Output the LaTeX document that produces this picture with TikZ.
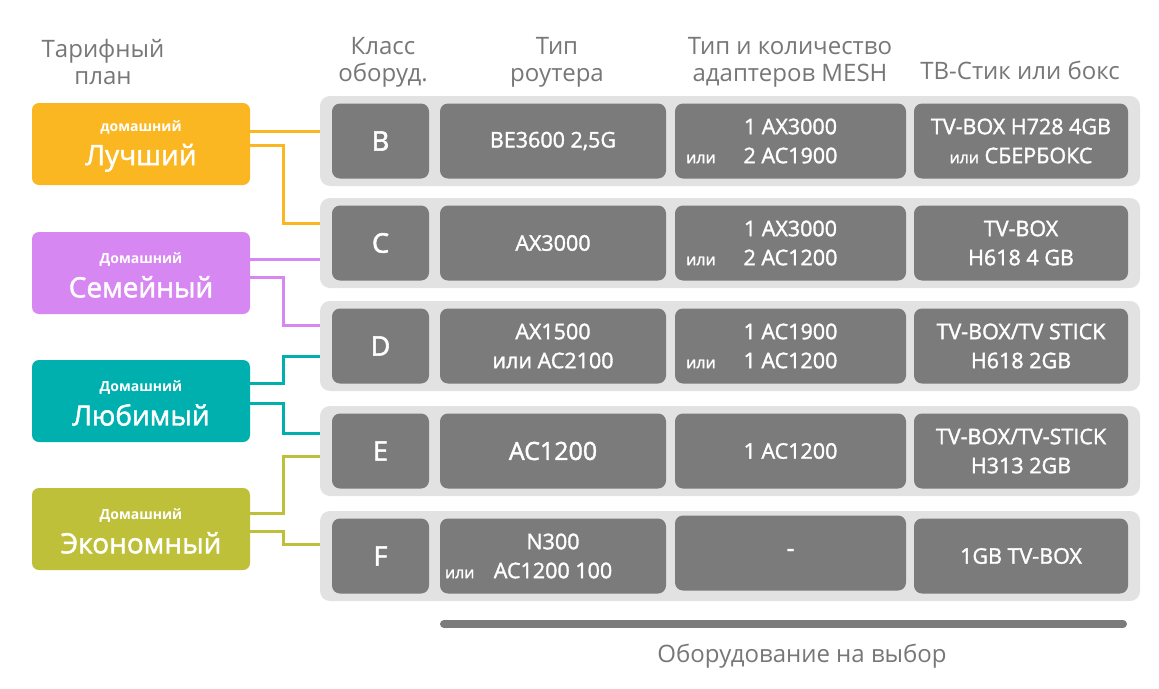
\documentclass[tikz,border=0pt]{standalone}
\usepackage{fontspec}
\setmainfont{Open Sans}
\newfontfamily\medfont{Open Sans}[FakeBold=1.6]
\newfontfamily\clsfont{Open Sans}[FakeBold=2.2]
\definecolor{hdrgray}{HTML}{777777}
\definecolor{rowgray}{HTML}{E2E2E2}
\definecolor{cellgray}{HTML}{7B7B7B}
\definecolor{cOr}{HTML}{FBB722}
\definecolor{cPu}{HTML}{D787F2}
\definecolor{cTe}{HTML}{00B0AE}
\definecolor{cOl}{HTML}{BFC03A}
\newcommand{\ili}{{\fontsize{16}{18}\selectfont или}}
\newcommand{\dom}[1]{{\fontsize{14}{16}\selectfont\bfseries #1}}
\newcommand{\pname}[1]{{\medfont\fontsize{28}{32}\selectfont #1}}
\begin{document}
\begin{tikzpicture}[x=1pt,y=-1pt,
  hdr/.style={text=hdrgray, align=center, font=\fontsize{24}{27}\selectfont, inner sep=0},
  rowbg/.style={fill=rowgray, rounded corners=10pt, minimum width=820pt, minimum height=90pt, inner sep=0},
  cell/.style={fill=cellgray, rounded corners=8pt, minimum height=75pt, inner sep=0, text=white, align=center, font=\medfont\fontsize{21.5}{29}\selectfont},
  cls/.style={cell, minimum width=97pt, font=\clsfont\fontsize{27}{28}\selectfont},
  rtr/.style={cell, minimum width=226pt},
  msh/.style={cell, minimum width=231pt},
  tvb/.style={cell, minimum width=214pt},
  plan/.style={rounded corners=7pt, minimum width=218pt, minimum height=82pt, inner sep=0},
  plantxt/.style={inner sep=0, text=white, align=center},
  conn/.style={line width=3pt}]
\useasboundingbox (0,0) rectangle (1159,688);
\fill[white] (0,0) rectangle (1159,688);

% headers
\node[hdr] (h1) at (103,62) {Тарифный\\план};
\node[hdr] (h2) at (383,62) {Класс\\оборуд.};
\node[hdr] (h3) at (557,62) {Тип\\роутера};
\node[hdr] (h4) at (790,62) {Тип и количество\\адаптеров MESH};
\node[hdr] (h5) at (1020,70) {ТВ-Стик или бокс};

% rows
\node[rowbg] (rB) at (730,141) {};
\node[rowbg] (rC) at (730,243) {};
\node[rowbg] (rD) at (730,346) {};
\node[rowbg] (rE) at (730,451) {};
\node[rowbg] (rF) at (730,556) {};

% row B
\node[cls] (cB) at (380.5,141) {B};
\node[rtr] (tB) at (553,141) {BE3600 2,5G};
\node[msh] (mB) at (790.5,141) {1 AX3000\\\llap{\ili\hspace{1.3em}}2 AC1900};
\node[tvb] (vB) at (1021,141) {TV-BOX H728 4GB\\\ili{} СБЕРБОКС};
% row C
\node[cls] (cC) at (380.5,243) {C};
\node[rtr] (tC) at (553,243) {AX3000};
\node[msh] (mC) at (790.5,243) {1 AX3000\\\llap{\ili\hspace{1.3em}}2 AC1200};
\node[tvb] (vC) at (1021,243) {TV-BOX\\H618 4 GB};
% row D
\node[cls] (cD) at (380.5,346) {D};
\node[rtr] (tD) at (553,346) {AX1500\\или AC2100};
\node[msh] (mD) at (790.5,346) {1 AC1900\\\llap{\ili\hspace{1.3em}}1 AC1200};
\node[tvb] (vD) at (1021,346) {TV-BOX/TV STICK\\H618 2GB};
% row E
\node[cls] (cE) at (380.5,451) {E};
\node[rtr, font=\medfont\fontsize{25}{28}\selectfont] (tE) at (553,451) {AC1200};
\node[msh] (mE) at (790.5,451) {1 AC1200};
\node[tvb] (vE) at (1021,451) {TV-BOX/TV-STICK\\H313 2GB};
% row F
\node[cls] (cF) at (380.5,556) {F};
\node[rtr] (tF) at (553,556) {N300\hspace{1.2em}\\\llap{\ili\hspace{0.9em}}AC1200 100};
\node[msh, font=\medfont\fontsize{25}{28}\selectfont] (mF) at (790.5,553) {-};
\node[tvb] (vF) at (1021,556) {1GB TV-BOX};

% plans
\node[plan, fill=cOr] (pB) at (141,144) {};
\node[plan, fill=cPu] (pC) at (141,273) {};
\node[plan, fill=cTe] (pD) at (141,401) {};
\node[plan, fill=cOl] (pE) at (141,529) {};
\node[plantxt] (pBt) at ([yshift=-2pt]pB.center) {\dom{домашний}\\[9pt]\pname{Лучший}};
\node[plantxt] (pCt) at ([yshift=-2pt]pC.center) {\dom{Домашний}\\[9pt]\pname{Семейный}};
\node[plantxt] (pDt) at ([yshift=-2pt]pD.center) {\dom{Домашний}\\[9pt]\pname{Любимый}};
\node[plantxt] (pEt) at ([yshift=-2pt]pE.center) {\dom{Домашний}\\[9pt]\pname{Экономный}};

% connectors
\draw[conn, cOr] (pB.east |- 0,131) -- (rB.west |- 0,131);
\draw[conn, cOr] (pB.east |- 0,145) -| (283,223) -- (rC.west |- 0,223);
\draw[conn, cPu] (pC.east |- 0,259) -- (rC.west |- 0,259);
\draw[conn, cPu] (pC.east |- 0,277) -| (283,325) -- (rD.west |- 0,325);
\draw[conn, cTe] (pD.east |- 0,383) -| (283,356) -- (rD.west |- 0,356);
\draw[conn, cTe] (pD.east |- 0,403) -| (283,433) -- (rE.west |- 0,433);
\draw[conn, cOl] (pE.east |- 0,513) -| (283,456) -- (rE.west |- 0,456);
\draw[conn, cOl] (pE.east |- 0,531) -| (283,544) -- (rF.west |- 0,544);

% bottom bar
\coordinate (barL) at (444,624);
\coordinate (barR) at (1123,624);
\draw[cellgray, line width=8pt, line cap=round] (barL) -- (barR);
\node[hdr] (lbl) at (802,656) {Оборудование на выбор};
\end{tikzpicture}
\end{document}
